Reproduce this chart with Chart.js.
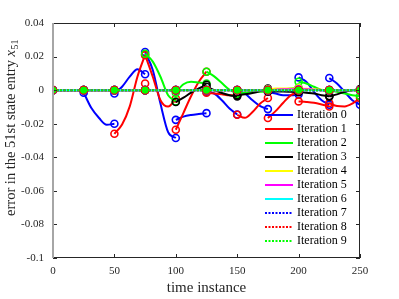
<!DOCTYPE html>
<html>
<head>
<meta charset="utf-8">
<script src="https://cdn.jsdelivr.net/npm/chart.js@4"></script>
<style>
  html, body { margin: 0; padding: 0; background: #fff; }
</style>
</head>
<body>
<canvas id="grafico" width="399" height="299"></canvas>
<script>
const xTicks = [0, 50, 100, 150, 200, 250];
const yTicks = [-0.1, -0.08, -0.06, -0.04, -0.02, 0, 0.02, 0.04];
const yTickLabels = ['-0.1', '-0.08', '-0.06', '-0.04', '-0.02', '0', '0.02', '0.04'];

// each iteration is drawn window by window (25 steps), values read at these offsets
const segStarts = [0, 25, 50, 75, 100, 125, 150, 175, 200, 225];
const segOffsets = [0, 6.25, 12.5, 18.75, 25];

const iteraciones = ['Iteration 0', 'Iteration 1', 'Iteration 2', 'Iteration 3', 'Iteration 4',
  'Iteration 5', 'Iteration 6', 'Iteration 7', 'Iteration 8', 'Iteration 9'];

const cero = [0, 0, 0, 0, 0];

const iter0 = [
  cero,
  [-0.0015, -0.0107, -0.0166, -0.0206, -0.020],
  [-0.002, 0.002, 0.008, 0.0125, 0.0095],
  [0.0227, 0.012, -0.008, -0.025, -0.0285],
  [-0.0177, -0.0158, -0.0148, -0.0142, -0.0137],
  [-0.001, -0.002, -0.006, -0.011, -0.0145],
  [0, -0.002, -0.006, -0.0095, -0.0113],
  [-0.001, -0.002, -0.003, -0.003, -0.0025],
  [0.0076, 0.005, -0.001, -0.006, -0.0087],
  [0.0072, 0.004, -0.001, -0.006, -0.0087]
];
const iter1 = [
  cero,
  cero,
  [-0.026, -0.0205, -0.0097, 0.008, 0.021],
  [0.021, 0.008, -0.006, -0.0098, -0.005],
  [-0.0236, -0.0135, -0.0035, 0.005, 0.011],
  [-0.0015, -0.002, -0.0025, -0.003, -0.003],
  [-0.0147, -0.0165, -0.013, -0.008, -0.0047],
  [-0.0166, -0.0125, -0.0075, -0.003, -0.001],
  [-0.0067, -0.007, -0.0075, -0.0085, -0.0097],
  [-0.0077, -0.0095, -0.0097, -0.008, -0.0047]
];
const iter2 = [
  cero,
  cero,
  cero,
  [0.0217, 0.017, 0.008, -0.003, -0.0067],
  [-0.0015, 0.0035, 0.005, 0.0045, 0.004],
  [0.011, 0.0082, 0.0042, 0.0002, -0.0023],
  [-0.002, -0.0015, -0.001, -0.001, -0.0005],
  [0, 0, 0.0005, 0.001, 0.0015],
  [0.005, 0.004, 0.002, 0, -0.001],
  [0, -0.001, -0.002, -0.003, -0.0035]
];
const iter3 = [
  cero,
  cero,
  cero,
  cero,
  [-0.0071, -0.0045, -0.0015, 0.001, 0.0032],
  [0.002, 0, -0.0017, -0.003, -0.0037],
  [-0.003, -0.0025, -0.0017, -0.0005, 0.001],
  [-0.0008, -0.0008, -0.0008, -0.001, -0.0012],
  [-0.001, -0.0015, -0.002, -0.003, -0.0037],
  [-0.0037, -0.0025, -0.001, 0, 0.0006]
];
const iter4 = [cero, cero, cero, cero, cero, cero, cero,
  [0.0005, 0.001, 0.001, 0.001, 0.001],
  [0.001, 0.0008, 0.0005, 0.0003, 0],
  cero];
const iter5 = [cero, cero, cero, cero, cero, cero, cero,
  [0, 0.0003, 0.0005, 0.0005, 0.0005],
  [0.0005, 0.0005, 0.0003, 0, 0],
  cero];
const iter6 = [cero, cero, cero, cero, cero, cero, cero, cero, cero, cero];
const iter7 = [cero, cero, cero, cero, cero, cero, cero, cero, cero, cero];
const iter8 = [cero, cero, cero, cero, cero, cero, cero, cero, cero, cero];
const iter9 = [cero, cero, cero, cero, cero, cero, cero, cero, cero, cero];

// isolated re-estimation markers
const marcasExtra = [[], [[75, 0.004]], [], [], [], [], [], [], [], []];

const series = [iter0, iter1, iter2, iter3, iter4, iter5, iter6, iter7, iter8, iter9];
const colores = ['#0000ff', '#ff0000', '#00ff00', '#000000', '#ffff00', '#ff00ff', '#00ffff',
  '#0000ff', '#ff0000', '#00ff00'];
const trazos = [[], [], [], [], [], [], [], [2, 1.5], [2, 1.5], [2, 1.5]];

function armarPuntos(segs, extras) {
  const pts = [];
  segs.forEach((seg, k) => {
    seg.forEach((v, j) => {
      pts.push({ x: segStarts[k] + segOffsets[j], y: v, m: j === 0 || j === seg.length - 1 });
    });
    pts.push({ x: segStarts[k] + 25, y: null });
  });
  extras.forEach(([x, v]) => {
    pts.push({ x: x, y: v, m: true });
    pts.push({ x: x, y: null });
  });
  return pts;
}

const datasets = series.map((segs, i) => ({
  label: iteraciones[i],
  data: armarPuntos(segs, marcasExtra[i]),
  borderColor: colores[i],
  borderWidth: 2,
  borderDash: trazos[i],
  pointBorderColor: colores[i],
  pointBackgroundColor: i === 9 ? colores[i] : 'rgba(0,0,0,0)',
  pointBorderWidth: 1.6,
  pointRadius: ctx => (ctx.raw && ctx.raw.m ? (i === 9 ? 2.5 : 3.5) : 0),
  cubicInterpolationMode: 'monotone',
  fill: false,
  order: 9 - i
}));

const fuente = '"Liberation Serif", "Times New Roman", serif';

const marco = {
  id: 'marco',
  afterDraw(chart) {
    const { ctx, chartArea: a, scales: { x, y } } = chart;
    ctx.save();
    // box and inward ticks
    ctx.strokeStyle = '#262626';
    ctx.lineWidth = 1;
    ctx.beginPath();
    ctx.moveTo(a.left, a.top + 0.5); ctx.lineTo(a.right, a.top + 0.5);
    ctx.moveTo(a.right - 0.5, a.top); ctx.lineTo(a.right - 0.5, a.bottom);
    ctx.moveTo(a.left, a.bottom - 0.5); ctx.lineTo(a.right, a.bottom - 0.5);
    xTicks.forEach(v => {
      const px = Math.round(x.getPixelForValue(v)) + 0.5;
      ctx.moveTo(px, a.bottom); ctx.lineTo(px, a.bottom - 4);
      ctx.moveTo(px, a.top); ctx.lineTo(px, a.top + 4);
    });
    yTicks.forEach(v => {
      const py = Math.round(y.getPixelForValue(v)) + 0.5;
      ctx.moveTo(a.left, py); ctx.lineTo(a.left + 4, py);
      ctx.moveTo(a.right, py); ctx.lineTo(a.right - 4, py);
    });
    ctx.stroke();
    ctx.strokeStyle = '#a6a6a6';
    ctx.lineWidth = 2;
    ctx.beginPath();
    ctx.moveTo(a.left, a.top); ctx.lineTo(a.left, a.bottom);
    ctx.stroke();

    // legend inside the axes, no box
    ctx.font = '12px ' + fuente;
    ctx.textBaseline = 'middle';
    iteraciones.forEach((nombre, i) => {
      const yy = 115 + 14 * i;
      ctx.strokeStyle = colores[i];
      ctx.lineWidth = 2;
      ctx.setLineDash(trazos[i]);
      ctx.beginPath();
      ctx.moveTo(a.right - 95, yy); ctx.lineTo(a.right - 67, yy);
      ctx.stroke();
      ctx.setLineDash([]);
      ctx.fillStyle = '#000';
      ctx.fillText(nombre, a.right - 63, yy);
    });

    // axis titles
    ctx.fillStyle = '#262626';
    ctx.font = '15px ' + fuente;
    ctx.textAlign = 'center';
    ctx.textBaseline = 'middle';
    ctx.fillText('time instance', (a.left + a.right) / 2, 288);

    ctx.translate(11, 128);
    ctx.rotate(-Math.PI / 2);
    const t1 = 'error in the 51st state entry ';
    ctx.font = '14.5px ' + fuente;
    const w1 = ctx.measureText(t1).width;
    ctx.font = 'italic 14.5px ' + fuente;
    const w2 = ctx.measureText('x').width;
    ctx.font = '10px ' + fuente;
    const w3 = ctx.measureText('51').width;
    let px = -(w1 + w2 + w3) / 2;
    ctx.textAlign = 'left';
    ctx.font = '14.5px ' + fuente;
    ctx.fillText(t1, px, 0);
    px += w1;
    ctx.font = 'italic 14.5px ' + fuente;
    ctx.fillText('x', px, 0);
    px += w2 + 0.5;
    ctx.font = '10px ' + fuente;
    ctx.fillText('51', px, 4);
    ctx.restore();
  }
};

new Chart(document.getElementById('grafico'), {
  type: 'line',
  data: { datasets },
  options: {
    responsive: false,
    devicePixelRatio: 1,
    animation: false,
    layout: { padding: { left: 0, right: 39, top: 23, bottom: 0 } },
    plugins: { legend: { display: false }, tooltip: { enabled: false } },
    scales: {
      x: {
        type: 'linear',
        min: 0,
        max: 250,
        afterBuildTicks: s => { s.ticks = xTicks.map(v => ({ value: v })); },
        afterFit: s => { s.height = 41; },
        grid: { display: false, drawTicks: false },
        border: { display: false },
        ticks: { color: '#262626', font: { family: fuente, size: 11 }, padding: 7, maxRotation: 0 }
      },
      y: {
        type: 'linear',
        min: -0.1,
        max: 0.04,
        afterBuildTicks: s => { s.ticks = yTicks.map(v => ({ value: v })); },
        afterFit: s => { s.width = 53; },
        grid: { display: false, drawTicks: false },
        border: { display: false },
        ticks: {
          color: '#262626',
          font: { family: fuente, size: 11 },
          padding: 9,
          callback: (v, i) => yTickLabels[i]
        }
      }
    }
  },
  plugins: [marco]
});
</script>
</body>
</html>
